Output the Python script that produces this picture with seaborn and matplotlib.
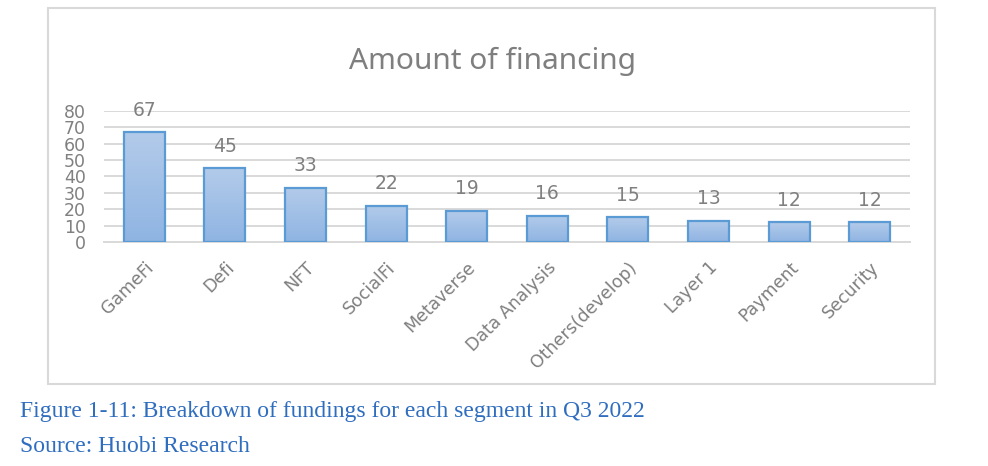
import numpy as np
import pandas as pd
import matplotlib
matplotlib.use('Agg')
import matplotlib.pyplot as plt
import seaborn as sns
from matplotlib.patches import Rectangle
from matplotlib.colors import LinearSegmentedColormap

categories = ["GameFi", "Defi", "NFT", "SocialFi", "Metaverse", "Data Analysis",
              "Others(develop)", "Layer 1", "Payment", "Security"]
values = [67, 45, 33, 22, 19, 16, 15, 13, 12, 12]
yticks = [0, 10, 20, 30, 40, 50, 60, 70, 80]
title = "Amount of financing"
caption1 = "Figure 1-11: Breakdown of fundings for each segment in Q3 2022"
caption2 = "Source: Huobi Research"

sns.set_theme(style='white')
plt.rcParams['font.family'] = ['DejaVu Sans']

W, H = 988, 466
fig = plt.figure(figsize=(W / 100, H / 100), dpi=100)
fig.patch.set_facecolor('white')

# chart border
fig.add_artist(Rectangle((48 / W, 1 - 384 / H), (935 - 48) / W, (384 - 8) / H,
                         transform=fig.transFigure, fill=False,
                         edgecolor='#d9d9d9', lw=1.5))

ax = fig.add_axes([104 / W, 1 - 242 / H, (910 - 104) / W, (242 - 111) / H])
df = pd.DataFrame({'segment': categories, 'amount': values})
sns.barplot(data=df, x='segment', y='amount', ax=ax, color='#a3c2e8',
            edgecolor='#5b9bd5', linewidth=1.6, width=0.51, saturation=1,
            zorder=3)

cmap = LinearSegmentedColormap.from_list('g', ['#b3cbea', '#8fb4e2'])
grad = np.linspace(0, 1, 256).reshape(-1, 1)
for p in ax.patches:
    x0, y0 = p.get_x(), p.get_y()
    w, h = p.get_width(), p.get_height()
    im = ax.imshow(grad, extent=[x0, x0 + w, y0, y0 + h], aspect='auto',
                   cmap=cmap, zorder=2.5, interpolation='bilinear')
    im.set_clip_path(p)
    p.set_facecolor('none')

ax.set_xlim(-0.5, len(categories) - 0.5)
ax.set_ylim(0, 80)
ax.set_yticks(yticks)
ax.set_yticklabels([str(t) for t in yticks])
ax.yaxis.grid(True, color='#d9d9d9', lw=1.4, zorder=0)
ax.xaxis.grid(False)
ax.set_axisbelow(True)
for s in ['top', 'right', 'left']:
    ax.spines[s].set_visible(False)
ax.spines['bottom'].set_color('#d9d9d9')
ax.spines['bottom'].set_linewidth(1.4)
ax.set_xlabel('')
ax.set_ylabel('')

ax.tick_params(axis='y', length=0, pad=13, labelsize=12.5, labelcolor='#808080')
ax.tick_params(axis='x', length=0, pad=12, labelsize=12.5, labelcolor='#7f7f7f')
for lab in ax.get_xticklabels():
    lab.set_rotation(45)
    lab.set_ha('right')
    lab.set_va('top')
    lab.set_rotation_mode('anchor')

for i, v in enumerate(values):
    ax.annotate(str(v), (i, v), xytext=(0, 9), textcoords='offset points',
                ha='center', va='bottom', fontsize=13.5, color='#808080')

fig.text(492 / W, 1 - 61 / H, title, ha='center', va='center', fontsize=21.5,
         color='#7f7f7f', family=['Noto Sans', 'DejaVu Sans'], weight='light')

fig.text(20 / W, 1 - 411 / H, caption1, ha='left', va='center', fontsize=17,
         color='#2f6dbf', family=['Liberation Serif', 'DejaVu Serif'])
fig.text(20 / W, 1 - 447 / H, caption2, ha='left', va='center', fontsize=17,
         color='#2f6dbf', family=['Liberation Serif', 'DejaVu Serif'])

fig.savefig('out.png', dpi=100, facecolor='white')
